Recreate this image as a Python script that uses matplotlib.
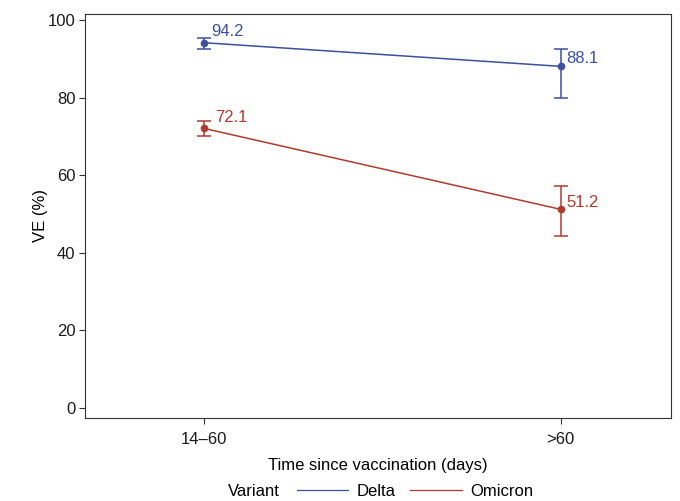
import matplotlib.pyplot as plt
import numpy as np

plt.rcParams['font.family'] = ['Liberation Sans', 'DejaVu Sans']

# Data
times = ['14–60', '>60']
variants = ['Delta', 'Omicron']
delta_ve = [94.2, 88.1]
delta_lo = [92.6, 80.0]
delta_hi = [95.3, 92.7]
omicron_ve = [72.1, 51.2]
omicron_lo = [70.0, 44.2]
omicron_hi = [73.9, 57.3]

colors = ['#3d4f9f', '#b03a2e']
# label offsets in points (dx, dy) for each point, baseline aligned
offsets = [[(5.5, 5.0), (4.1, 2.4)], [(8.4, 4.8), (4.1, 1.9)]]

fig = plt.figure(figsize=(6.8, 5.01), dpi=100)
ax = fig.add_axes([0.125, 0.166, 0.862, 0.806])

x = np.arange(len(times))
series = [(delta_ve, delta_lo, delta_hi), (omicron_ve, omicron_lo, omicron_hi)]
for i, (ve, lo, hi) in enumerate(series):
    ve = np.array(ve)
    err = [ve - np.array(lo), np.array(hi) - ve]
    ax.errorbar(x, ve, yerr=err, color=colors[i], linewidth=1.1, elinewidth=1.1,
                capsize=5, capthick=1.1, marker='o', markersize=4.5, label=variants[i])
    for j in range(len(x)):
        ax.annotate(f'{ve[j]:.1f}', (x[j], ve[j]), xytext=offsets[i][j],
                    textcoords='offset points', ha='left', va='baseline',
                    color=colors[i], fontsize=12)

ax.set_xlim(-0.333, 1.31)
ax.set_ylim(-2.6, 101.6)
ax.set_xticks(x)
ax.set_xticklabels(times)
ax.set_yticks([0, 20, 40, 60, 80, 100])
ax.tick_params(direction='out', length=4.5, width=0.8, color='#333333', pad=2.5,
               labelsize=12, labelcolor='#1a1a1a')
ax.tick_params(axis='x', pad=5.5)
for s in ax.spines.values():
    s.set_linewidth(0.8)
    s.set_color('#333333')

ax.set_xlabel('Time since vaccination (days)', fontsize=12, labelpad=8)
ax.set_ylabel('VE (%)', fontsize=12, labelpad=0)

# Legend
fig.text(228 / 680, 0.0186, 'Variant', fontsize=12, va='center', ha='left')
handles = [plt.Line2D([], [], color=c, linewidth=0.9) for c in colors]
fig.legend(handles, variants, loc='center left', bbox_to_anchor=(0.4363, 0.0186), ncol=2,
           frameon=False, fontsize=12, handlelength=3.1, columnspacing=0.88,
           handletextpad=0.5, borderpad=0, borderaxespad=0)

plt.savefig('out.png', dpi=100)
